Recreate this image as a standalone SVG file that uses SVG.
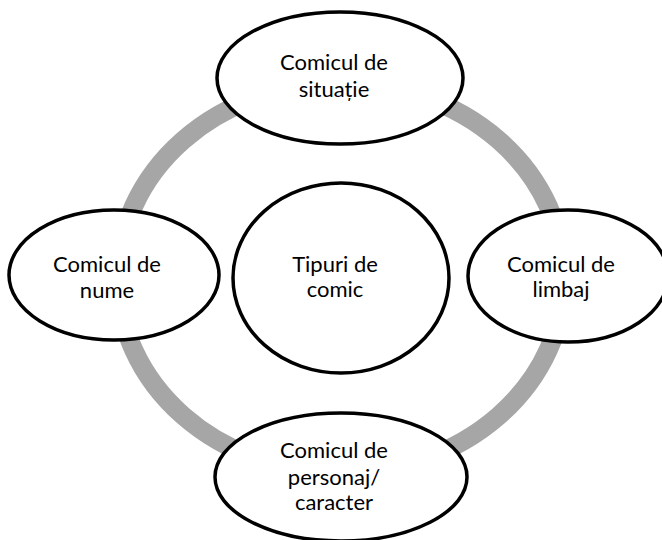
<svg xmlns="http://www.w3.org/2000/svg" width="662" height="540" viewBox="0 0 662 540">
<style>
.node{fill:#ffffff;stroke:#000000;stroke-width:3.5}
.ring{fill:none;stroke:#a6a6a6;stroke-width:19}
text{font-family:Lato,"Open Sans","Liberation Sans",sans-serif;font-size:22px;font-weight:400;fill:#000000;text-anchor:middle}
</style>
<rect width="662" height="540" fill="#ffffff"/>
<g id="connectors">
<ellipse class="ring" cx="341" cy="278" rx="223" ry="195"/>
</g>
<g id="center">
<ellipse class="node" cx="341" cy="278" rx="108" ry="95"/>
<text x="335" y="272">Tipuri de</text>
<text x="335" y="297">comic</text>
</g>
<g id="top">
<ellipse class="node" cx="340" cy="78" rx="123" ry="66"/>
<text x="334" y="70">Comicul de</text>
<text x="334" y="97">situație</text>
</g>
<g id="left">
<ellipse class="node" cx="114" cy="275" rx="105" ry="65"/>
<text x="107" y="272">Comicul de</text>
<text x="107" y="298">nume</text>
</g>
<g id="right">
<ellipse class="node" cx="568" cy="276" rx="100" ry="66"/>
<text x="561" y="272">Comicul de</text>
<text x="561" y="297">limbaj</text>
</g>
<g id="bottom">
<ellipse class="node" cx="341" cy="477" rx="126" ry="64"/>
<text x="334" y="458">Comicul de</text>
<text x="334" y="485">personaj/</text>
<text x="334" y="510">caracter</text>
</g>
</svg>
